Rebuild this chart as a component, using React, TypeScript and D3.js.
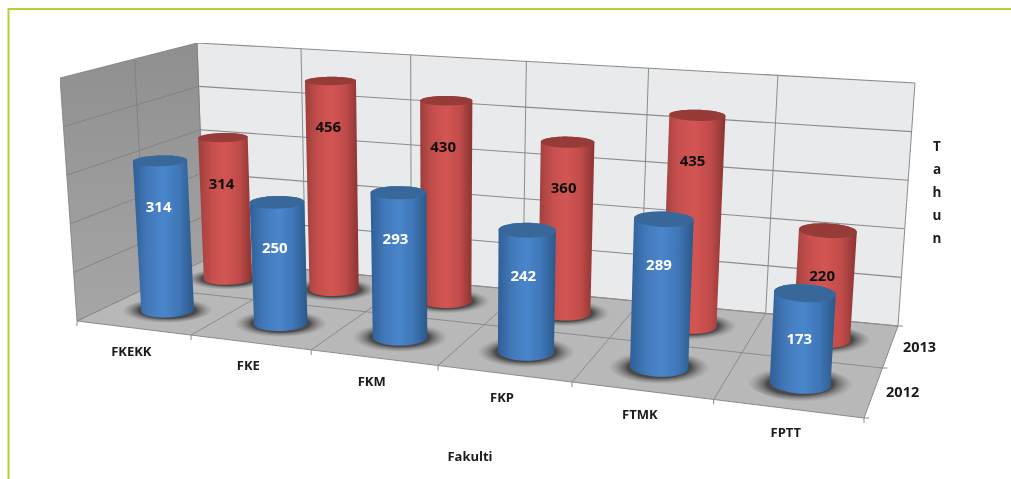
import React from 'react';
import * as d3 from 'd3';

const categories = ['FKEKK', 'FKE', 'FKM', 'FKP', 'FTMK', 'FPTT'];
const years = ['2012', '2013'];
const values2012 = [314, 250, 293, 242, 289, 173];
const values2013 = [314, 456, 430, 360, 435, 220];
const valueTicks = [0, 100, 200, 300, 400, 500];
const yTitle = ['T', 'a', 'h', 'u', 'n'];

type P = [number, number];
// Chart box corners as seen on screen: front-left, front-right, back-right, back-left
const floorQuad: P[] = [[77, 321], [864, 418], [898, 326], [205, 260]];
const topQuad: P[] = [[60, 78], [881, 146], [915, 83], [197, 43]];
const PERSP_U = 1.18;
const PERSP_V = 0.84;

const warp = (t: number, k: number) => t / (t + k * (1 - t));
const bilinear = (q: P[], s: number, t: number): P => {
  const a = d3.interpolateArray(q[0], q[1])(s) as number[];
  const b = d3.interpolateArray(q[3], q[2])(s) as number[];
  return d3.interpolateArray(a, b)(t) as unknown as P;
};

const uScale = d3.scaleBand<string>().domain(categories).range([0, 1]);
const vScale = d3.scaleBand<string>().domain(years).range([0, 1]);
const wScale = d3.scaleLinear().domain([0, 500]).range([0, 1]);

const project = (u: number, v: number, value: number): P => {
  const s = warp(u, PERSP_U), r = warp(v, PERSP_V);
  const a = bilinear(floorQuad, s, r), b = bilinear(topQuad, s, r), t = wScale(value);
  return [a[0] + (b[0] - a[0]) * t, a[1] + (b[1] - a[1]) * t];
};

const line = d3.line<P>();
const closed = d3.line<P>().curve(d3.curveLinearClosed);
const seg = (a: P, b: P) => line([a, b]) as string;

const RU = 0.0345, RV = 0.1;
const angles = d3.range(0, 360, 6).map((d) => (d * Math.PI) / 180);
const ring = (u: number, v: number, value: number, k = 1): P[] =>
  angles.map((t) => project(u + k * RU * Math.cos(t), v + k * RV * Math.sin(t), value));

const uTicks = d3.range(0, categories.length + 1).map((i) => i / categories.length);
const vTicks = d3.range(0, years.length + 1).map((i) => i / years.length);

const GRID = '#8b8b8b';
const FONT = '"Open Sans", sans-serif';

function Cylinder({ u, v, value, kind }: { u: number; v: number; value: number; kind: string }) {
  const bottom = ring(u, v, 0);
  const top = ring(u, v, value);
  const hull = d3.polygonHull([...bottom, ...top]) as P[];
  const c = project(u, v, value);
  const white = kind === 'blue';
  return (
    <g>
      <path d={closed(hull) as string} fill={`url(#body-${kind})`} />
      <path d={closed(top) as string} fill={white ? '#376899' : '#963a39'} />
      <text x={c[0] - 1 - 5 * u} y={c[1] + 45} textAnchor="middle" dominantBaseline="central"
        fontFamily={FONT} fontWeight={700} fontSize={15} fill={white ? '#ffffff' : '#111111'}>{value}</text>
    </g>
  );
}

export default function App() {
  const centerV = (y: string) => (vScale(y) as number) + vScale.bandwidth() / 2;
  const centerU = (c: string) => (uScale(c) as number) + uScale.bandwidth() / 2;
  const series = [
    { year: '2013', values: values2013, kind: 'red' },
    { year: '2012', values: values2012, kind: 'blue' },
  ];
  return (
    <svg width={1011} height={479} style={{ position: 'absolute', left: 0, top: 0 }}>
      <defs>
        <linearGradient id="body-blue" x1="0" x2="1" y1="0" y2="0">
          <stop offset="0" stopColor="#2f5f96" />
          <stop offset="0.25" stopColor="#4279bb" />
          <stop offset="0.5" stopColor="#4a86cb" />
          <stop offset="0.75" stopColor="#3f77b8" />
          <stop offset="1" stopColor="#2b5888" />
        </linearGradient>
        <linearGradient id="body-red" x1="0" x2="1" y1="0" y2="0">
          <stop offset="0" stopColor="#9c3e3c" />
          <stop offset="0.25" stopColor="#c64f4d" />
          <stop offset="0.5" stopColor="#d25553" />
          <stop offset="0.75" stopColor="#c24c4a" />
          <stop offset="1" stopColor="#8a3432" />
        </linearGradient>
        <linearGradient id="leftWall" x1="0" x2="0" y1="0" y2="1">
          <stop offset="0" stopColor="#8f8f8f" />
          <stop offset="1" stopColor="#a6a6a6" />
        </linearGradient>
        <radialGradient id="shadow">
          <stop offset="0" stopColor="#3c3c3c" />
          <stop offset="0.62" stopColor="#4a4a4a" />
          <stop offset="1" stopColor="#8a8a8a" stopOpacity={0} />
        </radialGradient>
        <filter id="soft" x="0" y="0" width="100%" height="100%">
          <feGaussianBlur stdDeviation="0.45" />
        </filter>
      </defs>
      <rect x={8.5} y={9} width={1100} height={600} fill="#ffffff" stroke="#b4d233" strokeWidth={2} />
      <g filter="url(#soft)">
        {/* walls and floor */}
        <path d={closed([project(0, 0, 0), project(0, 1, 0), project(0, 1, 500), project(0, 0, 500)]) as string} fill="url(#leftWall)" />
        <path d={closed([project(0, 1, 0), project(1, 1, 0), project(1, 1, 500), project(0, 1, 500)]) as string} fill="#e9eaeb" />
        <path d={closed([project(0, 0, 0), project(1, 0, 0), project(1, 1, 0), project(0, 1, 0)]) as string} fill="#b8b8b8" />

        {/* value gridlines */}
        {valueTicks.map((t) => (
          <g key={t} fill="none" stroke={GRID} strokeWidth={1.1}>
            <path d={seg(project(0, 1, t), project(1, 1, t))} />
            <path d={seg(project(0, 0, t), project(0, 1, t))} stroke="#7d7d7d" strokeWidth={0.8} />
          </g>
        ))}
        {/* category gridlines */}
        {uTicks.map((u) => (
          <g key={u} fill="none" stroke={GRID} strokeWidth={1}>
            <path d={seg(project(u, 1, 0), project(u, 1, 500))} />
            <path d={seg(project(u, 0, 0), project(u, 1, 0))} />
            <path d={seg(project(u, 0, 0), [project(u, 0, 0)[0], project(u, 0, 0)[1] + 5])} />
          </g>
        ))}
        {/* depth gridlines */}
        {vTicks.map((v) => (
          <g key={v} fill="none" stroke={GRID} strokeWidth={1}>
            <path d={seg(project(0, v, 0), project(1, v, 0))} />
            <path d={seg(project(0, v, 0), project(0, v, 500))} stroke="#7d7d7d" strokeWidth={0.8} />
            <path d={seg(project(1, v, 0), [project(1, v, 0)[0] + 5, project(1, v, 0)[1]])} />
          </g>
        ))}

        {/* floor shadows */}
        {series.map((s) =>
          s.values.map((_, i) => (
            <path key={s.year + i} d={closed(ring(centerU(categories[i]), centerV(s.year), 0, 1.75)) as string} fill="url(#shadow)" />
          ))
        )}

        {/* cylinders, back row first */}
        {series.map((s) =>
          s.values.map((val, i) => (
            <Cylinder key={s.year + i} u={centerU(categories[i])} v={centerV(s.year)} value={val} kind={s.kind} />
          ))
        )}

        {/* axis labels */}
        {categories.map((c) => {
          const p = project(centerU(c), 0, 0);
          return (
            <text key={c} x={p[0] - 2} y={p[1] + 23} textAnchor="middle" dominantBaseline="central"
              fontFamily={FONT} fontWeight={700} fontSize={13} fill="#1a1a1a">{c}</text>
          );
        })}
        {years.map((y) => {
          const p = project(1, centerV(y), 0);
          return (
            <text key={y} x={p[0] + 29} y={p[1]} textAnchor="middle" dominantBaseline="central"
              fontFamily={FONT} fontWeight={700} fontSize={14.5} fill="#1a1a1a">{y}</text>
          );
        })}
        <text x={470} y={456} textAnchor="middle" dominantBaseline="central"
          fontFamily={FONT} fontWeight={700} fontSize={13} fill="#1a1a1a">Fakulti</text>
        {yTitle.map((ch, i) => (
          <text key={i} x={937} y={146 + i * 23} textAnchor="middle" dominantBaseline="central"
            fontFamily={FONT} fontWeight={700} fontSize={13.5} fill="#1a1a1a">{ch}</text>
        ))}
      </g>
    </svg>
  );
}
